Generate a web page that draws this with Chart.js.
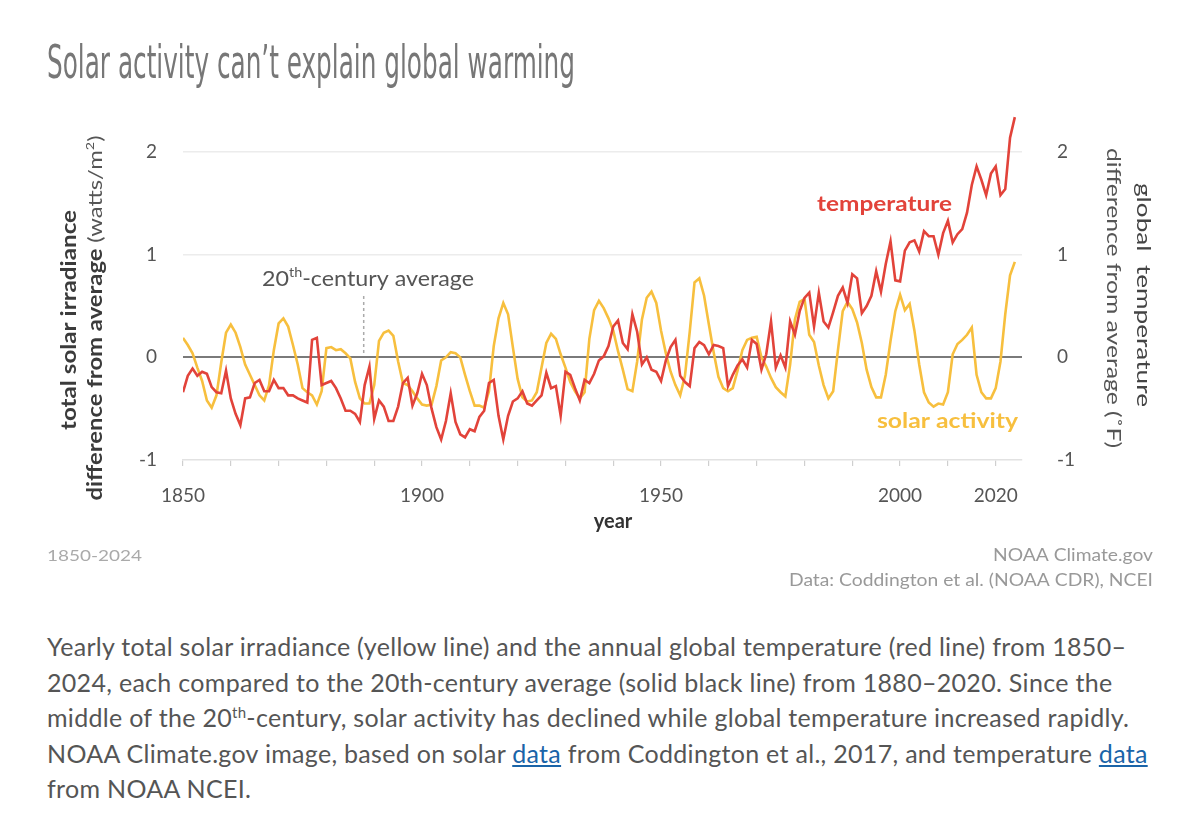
<!DOCTYPE html>
<html>
<head>
<meta charset="utf-8">
<script src="https://cdn.jsdelivr.net/npm/chart.js@4.4.1/dist/chart.umd.min.js"></script>
<style>
  html, body { margin: 0; padding: 0; background: #fff; }
  body { width: 1200px; height: 837px; position: relative; overflow: hidden; }
  #chart { position: absolute; left: 0; top: 0; }
  #caption {
    position: absolute; left: 47px; top: 629px; width: 1140px;
    font-family: Lato, "Noto Sans", sans-serif; font-size: 25px; line-height: 35.5px;
    letter-spacing: 0.3px; color: #555; white-space: nowrap;
  }
  #caption sup { font-size: 0.6em; position: relative; top: -0.6em; vertical-align: baseline; line-height: 0; }
  #caption a { color: #1a64a8; text-decoration: underline; }
</style>
</head>
<body>
<canvas id="chart" width="1200" height="600"></canvas>
<div id="caption">Yearly total solar irradiance (yellow line) and the annual global temperature (red line) from 1850–<br>2024, each compared to the 20th-century average (solid black line) from 1880–2020. Since the<br>middle of the 20<sup>th</sup>-century, solar activity has declined while global temperature increased rapidly.<br>NOAA Climate.gov image, based on solar <a href="#">data</a> from Coddington et al., 2017, and temperature <a href="#">data</a><br>from NOAA NCEI.</div>
<script>
// years shown on the chart
var years = [
  1850,1851,1852,1853,1854,1855,1856,1857,1858,1859,
  1860,1861,1862,1863,1864,1865,1866,1867,1868,1869,
  1870,1871,1872,1873,1874,1875,1876,1877,1878,1879,
  1880,1881,1882,1883,1884,1885,1886,1887,1888,1889,
  1890,1891,1892,1893,1894,1895,1896,1897,1898,1899,
  1900,1901,1902,1903,1904,1905,1906,1907,1908,1909,
  1910,1911,1912,1913,1914,1915,1916,1917,1918,1919,
  1920,1921,1922,1923,1924,1925,1926,1927,1928,1929,
  1930,1931,1932,1933,1934,1935,1936,1937,1938,1939,
  1940,1941,1942,1943,1944,1945,1946,1947,1948,1949,
  1950,1951,1952,1953,1954,1955,1956,1957,1958,1959,
  1960,1961,1962,1963,1964,1965,1966,1967,1968,1969,
  1970,1971,1972,1973,1974,1975,1976,1977,1978,1979,
  1980,1981,1982,1983,1984,1985,1986,1987,1988,1989,
  1990,1991,1992,1993,1994,1995,1996,1997,1998,1999,
  2000,2001,2002,2003,2004,2005,2006,2007,2008,2009,
  2010,2011,2012,2013,2014,2015,2016,2017,2018,2019,
  2020,2021,2022,2023,2024
];

// global temperature, difference from 20th-century average (F)
var temperature = [
  -0.34,-0.18,-0.11,-0.18,-0.14,-0.16,-0.29,-0.34,-0.35,-0.13,
  -0.40,-0.55,-0.66,-0.40,-0.39,-0.25,-0.22,-0.33,-0.33,-0.22,
  -0.30,-0.30,-0.37,-0.37,-0.40,-0.42,-0.44,0.17,0.19,-0.27,
  -0.25,-0.23,-0.30,-0.40,-0.52,-0.52,-0.55,-0.63,-0.27,-0.09,
  -0.60,-0.42,-0.48,-0.62,-0.62,-0.48,-0.25,-0.20,-0.47,-0.35,
  -0.16,-0.27,-0.50,-0.68,-0.80,-0.62,-0.35,-0.63,-0.75,-0.78,
  -0.70,-0.72,-0.58,-0.52,-0.25,-0.22,-0.57,-0.80,-0.57,-0.43,
  -0.40,-0.33,-0.45,-0.47,-0.42,-0.37,-0.15,-0.30,-0.28,-0.57,
  -0.14,-0.17,-0.30,-0.42,-0.22,-0.25,-0.16,-0.03,0.01,0.11,
  0.30,0.36,0.14,0.08,0.42,0.25,-0.07,0.00,-0.12,-0.14,
  -0.23,-0.03,0.10,0.17,-0.18,-0.24,-0.28,0.09,0.15,0.12,
  0.03,0.12,0.11,0.09,-0.28,-0.17,-0.08,-0.02,-0.10,0.17,
  0.13,-0.12,0.03,0.35,-0.10,0.02,-0.10,0.35,0.22,0.45,
  0.58,0.63,0.30,0.63,0.35,0.29,0.44,0.60,0.68,0.53,
  0.81,0.77,0.43,0.50,0.60,0.84,0.64,0.91,1.13,0.75,
  0.74,1.04,1.12,1.14,1.03,1.23,1.18,1.18,1.00,1.21,
  1.33,1.12,1.20,1.25,1.41,1.68,1.86,1.73,1.58,1.79,
  1.86,1.58,1.64,2.14,2.34
];

// total solar irradiance, difference from average (watts/m2)
var solar = [
  0.19,0.12,0.04,-0.10,-0.23,-0.42,-0.49,-0.37,-0.05,0.24,
  0.32,0.24,0.10,-0.07,-0.17,-0.27,-0.37,-0.42,-0.27,0.07,
  0.33,0.38,0.30,0.12,-0.07,-0.30,-0.34,-0.37,-0.46,-0.33,
  0.09,0.10,0.07,0.08,0.04,-0.01,-0.24,-0.40,-0.45,-0.45,
  -0.27,0.16,0.24,0.26,0.21,-0.04,-0.25,-0.27,-0.33,-0.40,
  -0.46,-0.47,-0.46,-0.28,-0.03,0.00,0.05,0.04,0.00,-0.17,
  -0.33,-0.47,-0.47,-0.49,-0.33,0.11,0.38,0.53,0.42,0.10,
  -0.21,-0.39,-0.43,-0.42,-0.34,-0.10,0.14,0.23,0.18,0.03,
  -0.10,-0.24,-0.33,-0.40,-0.34,0.18,0.46,0.55,0.48,0.38,
  0.26,0.06,-0.12,-0.31,-0.33,-0.04,0.37,0.58,0.64,0.53,
  0.26,0.04,-0.14,-0.27,-0.37,-0.18,0.25,0.73,0.77,0.60,
  0.32,0.05,-0.19,-0.30,-0.33,-0.30,-0.13,0.07,0.17,0.19,
  0.20,0.00,-0.09,-0.20,-0.29,-0.34,-0.38,-0.07,0.37,0.54,
  0.57,0.22,0.15,-0.08,-0.27,-0.40,-0.33,0.07,0.45,0.54,
  0.47,0.34,0.14,-0.12,-0.29,-0.39,-0.39,-0.17,0.16,0.45,
  0.61,0.46,0.52,0.26,-0.07,-0.34,-0.44,-0.48,-0.45,-0.46,
  -0.34,0.03,0.13,0.17,0.22,0.29,-0.17,-0.34,-0.40,-0.40,
  -0.30,-0.04,0.42,0.80,0.93
];

var yTicks = [-1, 0, 1, 2];
var xTickMarks = [1850,1860,1870,1880,1890,1900,1910,1920,1930,1940,1950,1960,1970,1980,1990,2000,2010,2020];
var xLabels = [1850, 1900, 1950, 2000, 2020];

var RED = '#e2433a';
var YELLOW = '#f7bf3e';
var SANS = 'Lato, "Noto Sans", sans-serif';

// draws a run of text pieces (different fonts), squeezed to a given width if asked
function drawRun(ctx, pieces, x, y, align, width) {
    var total = 0;
    pieces.forEach(function (p) { ctx.font = p.font; p.w = ctx.measureText(p.text).width; total += p.w; });
    var s = width ? width / total : 1;
    ctx.save();
    ctx.translate(x, y);
    ctx.scale(s, 1);
    var cx = align === 'center' ? -total / 2 : (align === 'right' ? -total : 0);
    ctx.textAlign = 'left';
    ctx.textBaseline = 'alphabetic';
    pieces.forEach(function (p) {
        ctx.font = p.font;
        ctx.fillStyle = p.color;
        ctx.fillText(p.text, cx, p.dy || 0);
        cx += p.w;
    });
    ctx.restore();
}

var texts = {
    id: 'texts',
    afterDraw: function (chart) {
        var ctx = chart.ctx;
        ctx.save();

        // title
        drawRun(ctx, [{ text: 'Solar activity can\u2019t explain global warming', font: '46px "Liberation Sans Narrow", "DejaVu Sans Condensed", Roboto, sans-serif', color: '#777' }], 47, 78, 'left', 528);

        // left axis title
        ctx.save();
        ctx.translate(76, 320);
        ctx.rotate(-Math.PI / 2);
        drawRun(ctx, [{ text: 'total solar irradiance', font: 'bold 20px ' + SANS, color: '#3b3b3b' }], 0, 0, 'center', 220);
        ctx.restore();
        ctx.save();
        ctx.translate(102, 318);
        ctx.rotate(-Math.PI / 2);
        drawRun(ctx, [
            { text: 'difference from average ', font: 'bold 20px ' + SANS, color: '#3b3b3b' },
            { text: '(watts/m', font: '20px ' + SANS, color: '#555' },
            { text: '2', font: '12px ' + SANS, color: '#555', dy: -8 },
            { text: ')', font: '20px ' + SANS, color: '#555' }
        ], 0, 0, 'center', 365);
        ctx.restore();

        // right axis title
        ctx.save();
        ctx.translate(1137, 295);
        ctx.rotate(Math.PI / 2);
        drawRun(ctx, [{ text: 'global  temperature', font: '20px ' + SANS, color: '#444' }], 0, 0, 'center', 224);
        ctx.restore();
        ctx.save();
        ctx.translate(1107, 298);
        ctx.rotate(Math.PI / 2);
        drawRun(ctx, [{ text: 'difference from average (\u02daF)', font: '20px ' + SANS, color: '#555' }], 0, 0, 'center', 300);
        ctx.restore();

        // x axis title
        drawRun(ctx, [{ text: 'year', font: 'bold 20px ' + SANS, color: '#333' }], 613, 528, 'center');

        // series labels
        drawRun(ctx, [{ text: 'temperature', font: 'bold 21px ' + SANS, color: RED }], 817, 211, 'left', 135);
        drawRun(ctx, [{ text: 'solar activity', font: 'bold 21px ' + SANS, color: YELLOW }], 877, 428, 'left', 141);

        // 20th-century average note
        drawRun(ctx, [
            { text: '20', font: '21px ' + SANS, color: '#555' },
            { text: 'th', font: '13px ' + SANS, color: '#555', dy: -9 },
            { text: '-century average', font: '21px ' + SANS, color: '#555' }
        ], 262, 286, 'left', 212);
        var xs = chart.scales.x, ys = chart.scales.y;
        var nx = xs.getPixelForValue(1887.8);
        ctx.strokeStyle = '#aaa';
        ctx.lineWidth = 1.5;
        ctx.setLineDash([3, 3]);
        ctx.beginPath();
        ctx.moveTo(nx, 296);
        ctx.lineTo(nx, ys.getPixelForValue(0) - 3);
        ctx.stroke();
        ctx.setLineDash([]);

        // footer
        drawRun(ctx, [{ text: '1850-2024', font: '16px ' + SANS, color: '#aaa' }], 47, 561, 'left', 95);
        drawRun(ctx, [{ text: 'NOAA Climate.gov', font: '17px ' + SANS, color: '#999' }], 1153, 561, 'right', 160);
        drawRun(ctx, [{ text: 'Data: Coddington et al. (NOAA CDR), NCEI', font: '17px ' + SANS, color: '#999' }], 1153, 586, 'right', 364);

        ctx.restore();
    }
};

function pts(values) {
    return values.map(function (v, i) { return { x: years[i], y: v }; });
}

var tickFont = { family: SANS, size: 19 };

var chart = new Chart(document.getElementById('chart'), {
    type: 'line',
    data: {
        datasets: [
            {
                label: 'temperature',
                data: pts(temperature),
                yAxisID: 'y2',
                borderColor: RED,
                borderWidth: 2.6,
                pointRadius: 0,
                tension: 0,
                fill: false
            },
            {
                label: 'solar activity',
                data: pts(solar),
                yAxisID: 'y',
                borderColor: YELLOW,
                borderWidth: 2.6,
                pointRadius: 0,
                tension: 0,
                fill: false
            }
        ]
    },
    options: {
        responsive: false,
        animation: false,
        events: [],
        layout: { padding: { top: 111, left: 0, right: 0, bottom: 0 } },
        plugins: { legend: { display: false }, tooltip: { enabled: false } },
        scales: {
            x: {
                type: 'linear',
                min: 1850,
                max: 2025.5,
                afterBuildTicks: function (s) { s.ticks = xTickMarks.map(function (v) { return { value: v }; }); },
                afterFit: function (s) { s.height = 140; },
                ticks: {
                    autoSkip: false,
                    maxRotation: 0,
                    padding: 18,
                    color: '#555',
                    font: tickFont,
                    callback: function (v) { return xLabels.indexOf(v) >= 0 ? String(v) : ''; }
                },
                grid: { drawOnChartArea: false, tickLength: 6, color: '#cfcfcf', lineWidth: 1.2 },
                border: { color: '#e2e2e2', width: 1.5 }
            },
            y: {
                position: 'left',
                min: -1,
                max: 2.4,
                afterBuildTicks: function (s) { s.ticks = yTicks.map(function (v) { return { value: v }; }); },
                afterFit: function (s) { s.width = 183; },
                ticks: { padding: 26, color: '#555', font: tickFont, callback: function (v) { return String(v); } },
                grid: {
                    drawTicks: false,
                    color: function (c) { return c.tick && c.tick.value === 0 ? '#7a7a7a' : (c.tick && c.tick.value === -1 ? 'rgba(0,0,0,0)' : '#ececec'); },
                    lineWidth: function (c) { return c.tick && c.tick.value === 0 ? 2 : 1.5; }
                },
                border: { display: false }
            },
            y2: {
                position: 'right',
                min: -1,
                max: 2.4,
                afterBuildTicks: function (s) { s.ticks = yTicks.map(function (v) { return { value: v }; }); },
                afterFit: function (s) { s.width = 178; },
                ticks: { padding: 27, color: '#555', font: tickFont, callback: function (v) { return String(v); } },
                grid: { display: false },
                border: { display: false }
            }
        }
    },
    plugins: [texts]
});
</script>
</body>
</html>
